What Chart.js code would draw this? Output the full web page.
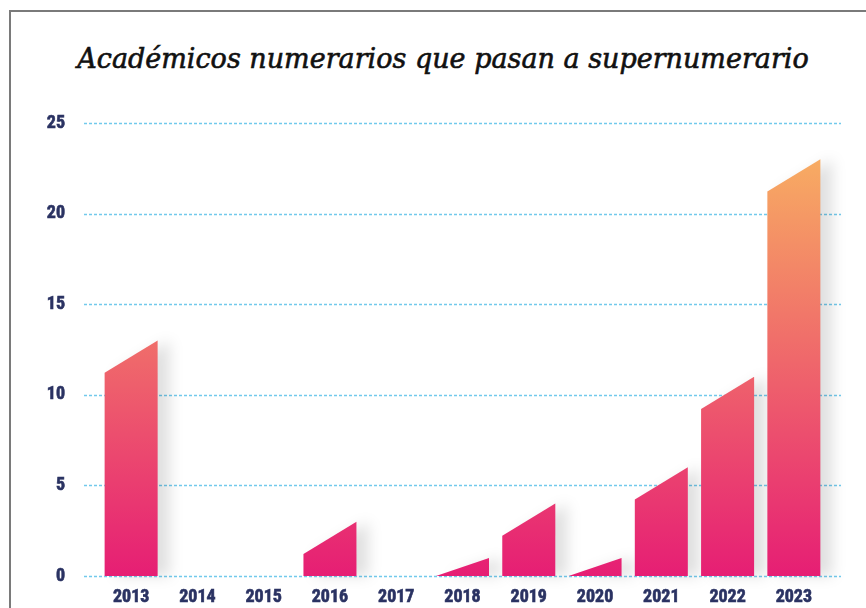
<!DOCTYPE html>
<html>
<head>
<meta charset="utf-8">
<script src="https://cdn.jsdelivr.net/npm/chart.js@4.4.1/dist/chart.umd.min.js"></script>
<style>
  html, body { margin: 0; padding: 0; background: #fff; overflow: hidden; }
  #wrap { position: relative; width: 866px; height: 608px; }
  #frame {
    position: absolute; left: 9px; top: 10px; width: 900px; height: 700px;
    border-left: 2px solid #7a7a7a; border-top: 2px solid #7a7a7a;
    box-sizing: border-box;
  }
  #title {
    position: absolute; left: 20px; top: 45px; width: 846px; margin: 0;
    text-align: center; white-space: nowrap;
    font: italic normal 27px/27px "DejaVu Serif", serif; color: #111;
    -webkit-text-stroke: 0.6px #111;
  }
  canvas { position: absolute; left: 0; top: 0; }
</style>
</head>
<body>
<div id="wrap">
  <div id="frame"></div>
  <h1 id="title"></h1>
  <canvas id="chart" width="866" height="608"></canvas>
</div>
<script>
/* data */
const years = ["2013", "2014", "2015", "2016", "2017", "2018", "2019", "2020", "2021", "2022", "2023"];
const counts = [13, 0, 0, 3, 0, 1, 4, 1, 6, 11, 23];
const yTicks = [0, 5, 10, 15, 20, 25];

const titleText = "Académicos numerarios que pasan a supernumerario";
const navy = "#2a3262";
const tickFont = { family: "'Liberation Sans Narrow', 'Roboto Condensed', Roboto, sans-serif", size: 18, weight: "bold" };

document.getElementById("title").textContent = titleText;

/* dotted grid lines, slightly wider than the plot area */
const dottedGrid = {
  id: "dottedGrid",
  beforeDatasetsDraw(chart) {
    const { ctx, chartArea, scales } = chart;
    ctx.save();
    ctx.strokeStyle = "#72c9ec";
    ctx.lineWidth = 1.3;
    ctx.setLineDash([3, 2]);
    scales.y.ticks.forEach((t) => {
      const y = Math.round(scales.y.getPixelForValue(t.value)) + 0.5;
      ctx.beginPath();
      ctx.moveTo(chartArea.left - 14, y);
      ctx.lineTo(chartArea.right + 14, y);
      ctx.stroke();
    });
    ctx.restore();
  },
};

/* bars with a slanted top and a soft shadow on the right */
const slantBars = {
  id: "slantBars",
  beforeDatasetDraw(chart, args) {
    const { ctx, chartArea } = chart;
    const meta = args.meta;

    const grad = ctx.createLinearGradient(0, chartArea.bottom, 0, chartArea.top);
    grad.addColorStop(0, "#e61e74");
    grad.addColorStop(1, "#f9b861");

    meta.data.forEach((bar) => {
      const { x, y, base, width } = bar.getProps(["x", "y", "base", "width"], true);
      if (base - y < 0.5) return;
      const left = x - width / 2;
      const right = x + width / 2;
      const leftTop = Math.min(base, y + width * 0.61);

      ctx.save();
      ctx.shadowColor = "rgba(0,0,0,0.12)";
      ctx.shadowBlur = 14;
      ctx.shadowOffsetX = 12;
      ctx.shadowOffsetY = 0;
      ctx.beginPath();
      ctx.moveTo(left, base);
      ctx.lineTo(left, leftTop);
      ctx.lineTo(right, y);
      ctx.lineTo(right, base);
      ctx.closePath();
      ctx.fillStyle = grad;
      ctx.fill();
      ctx.restore();
    });
    return false;
  },
};

new Chart(document.getElementById("chart"), {
  type: "bar",
  data: {
    labels: years,
    datasets: [
      {
        data: counts,
        backgroundColor: "#e61e74",
        barPercentage: 0.8,
        categoryPercentage: 1.0,
      },
    ],
  },
  options: {
    responsive: false,
    animation: false,
    layout: { padding: { left: 0, right: 39, top: 123, bottom: 2 } },
    plugins: {
      legend: { display: false },
      tooltip: { enabled: false },
      title: { display: false },
    },
    scales: {
      x: {
        afterFit(scale) {
          scale.height = 30;
        },
        grid: { display: false, drawTicks: false },
        border: { display: false },
        ticks: {
          color: navy, font: tickFont, padding: 11, maxRotation: 0,
          textStrokeColor: navy, textStrokeWidth: 0.6,
        },
      },
      y: {
        min: 0,
        max: 25,
        afterFit(scale) {
          scale.width = 98;
          // the large tick padding would otherwise push the plot area up
          scale.paddingTop = 10;
          scale.paddingBottom = 10;
        },
        afterBuildTicks(scale) {
          scale.ticks = yTicks.map((v) => ({ value: v }));
        },
        grid: { display: false, drawTicks: false },
        border: { display: false },
        ticks: {
          color: navy, font: tickFont, padding: 33,
          textStrokeColor: navy, textStrokeWidth: 0.6,
        },
      },
    },
  },
  plugins: [dottedGrid, slantBars],
});
</script>
</body>
</html>
